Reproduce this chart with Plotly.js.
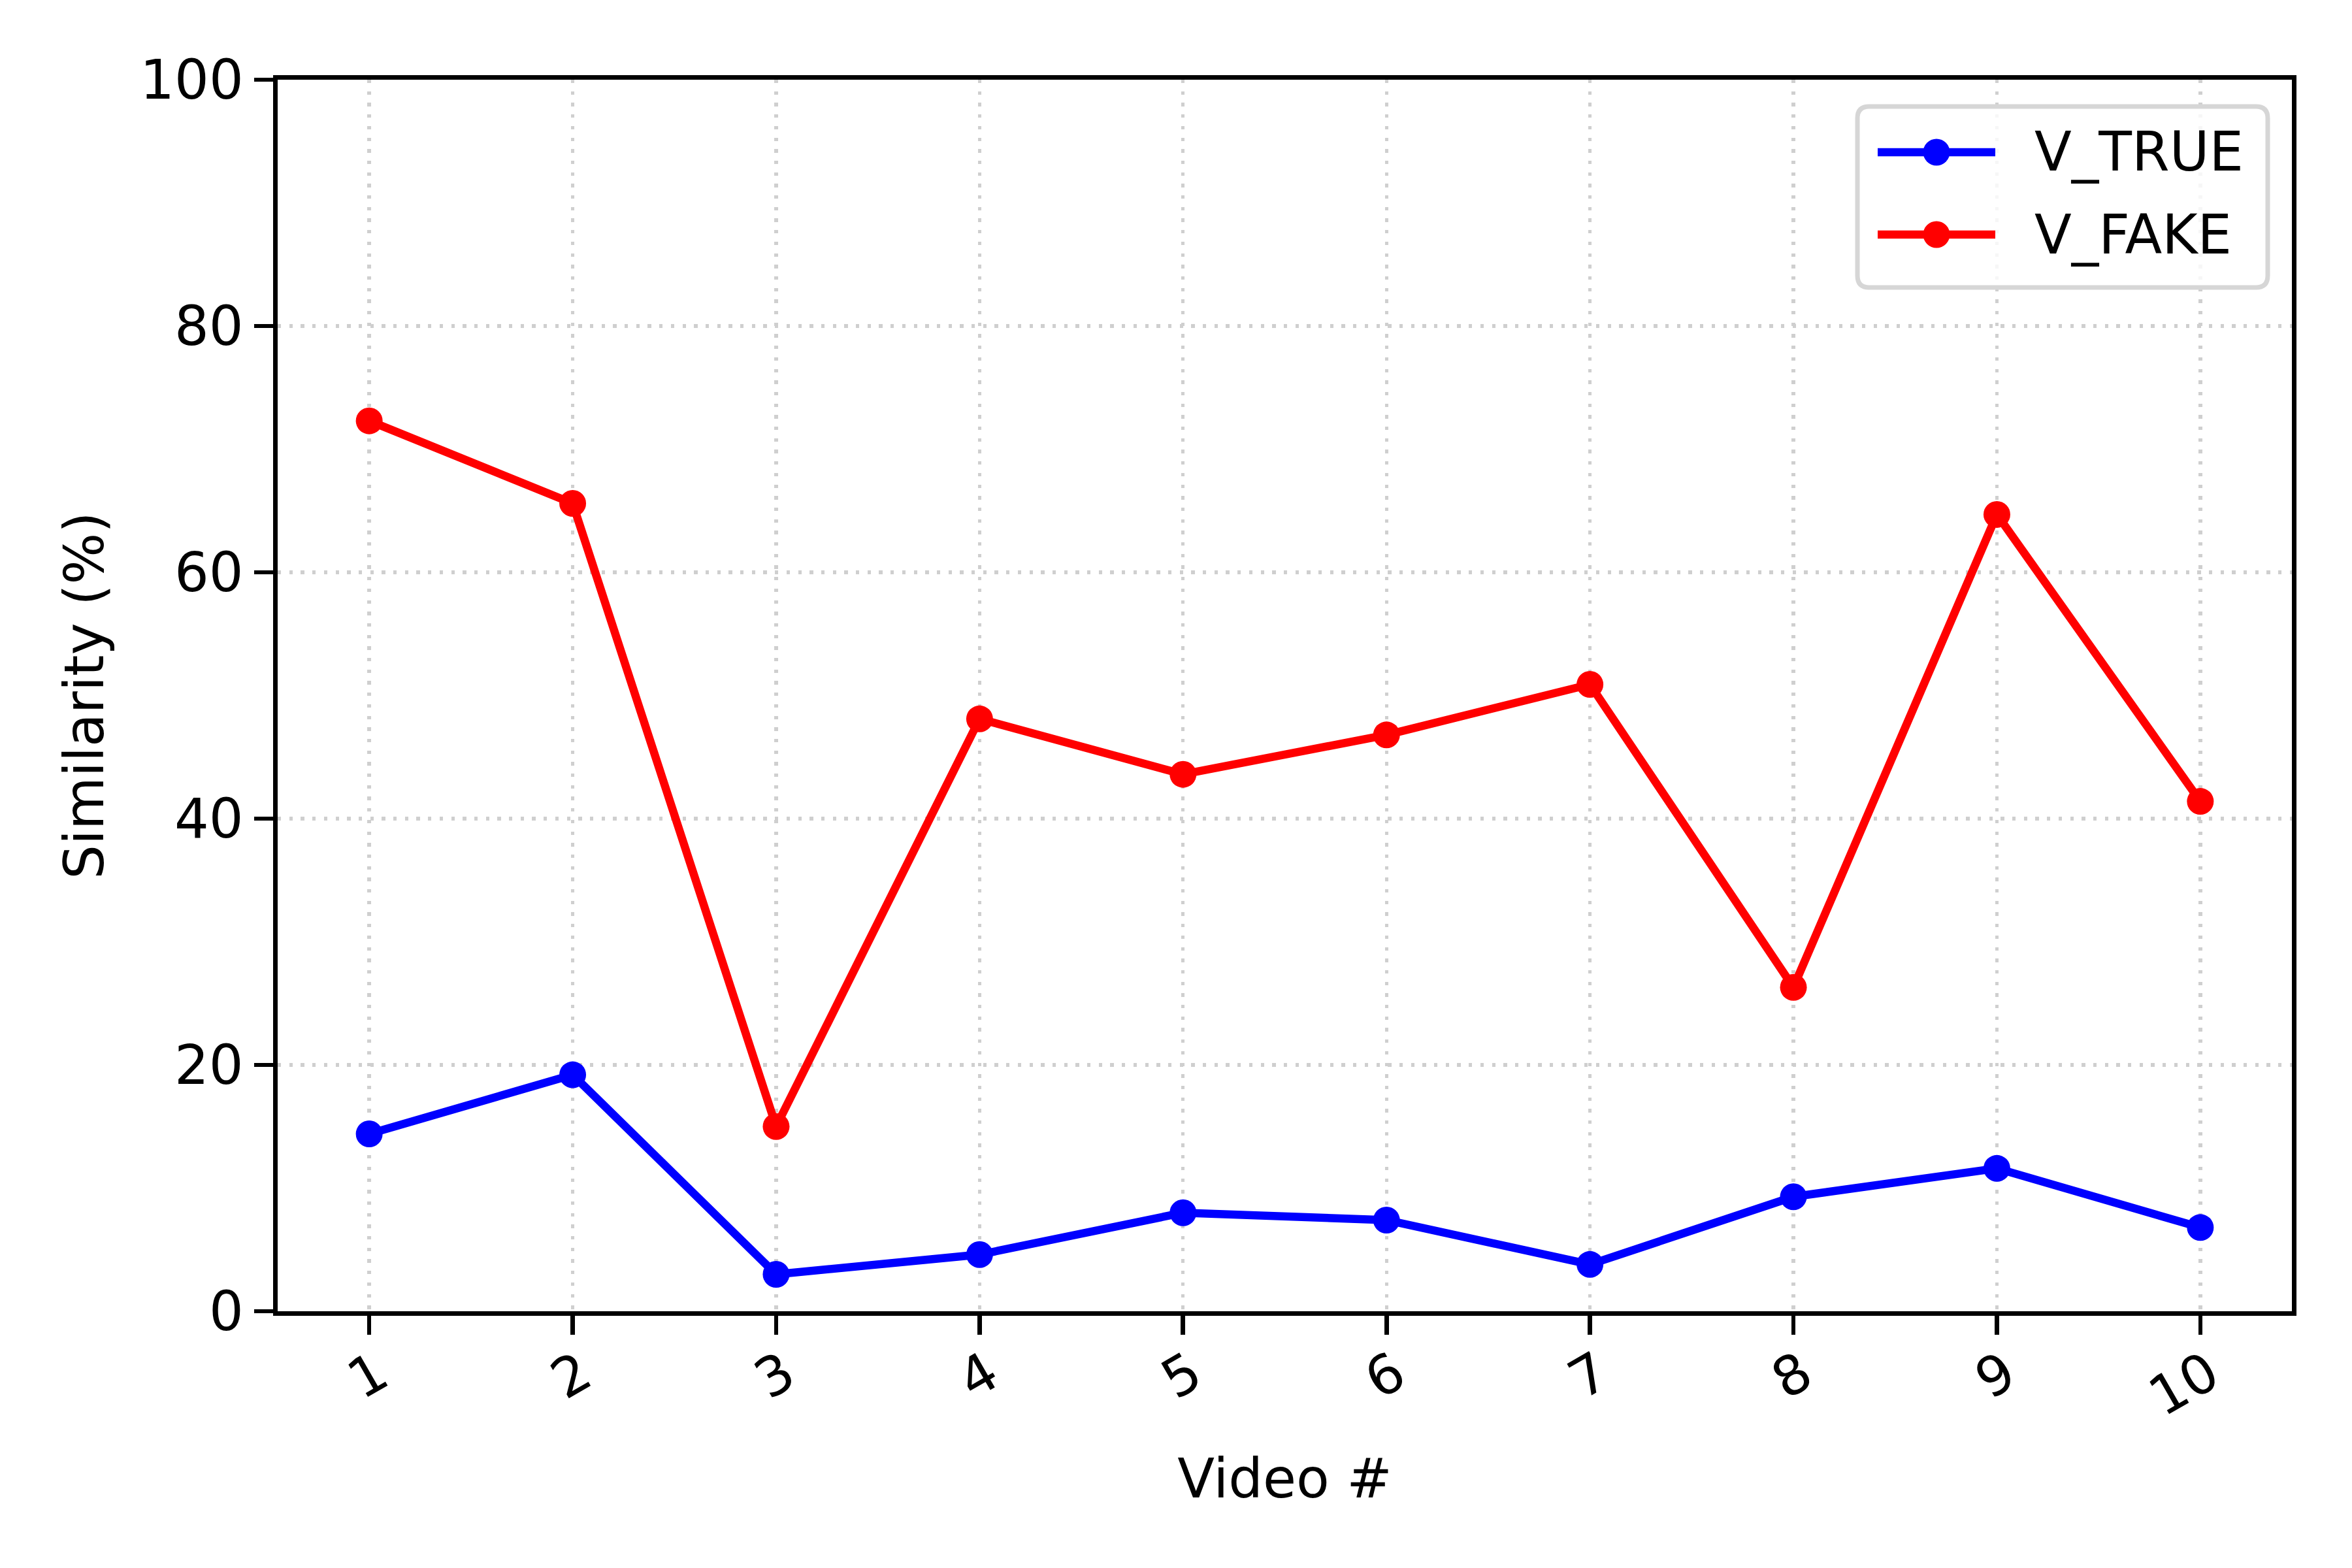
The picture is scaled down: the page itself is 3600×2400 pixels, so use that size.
<!DOCTYPE html>
<html>
<head>
<meta charset="utf-8">
<script src="https://cdn.plot.ly/plotly-3.0.1.min.js"></script>
<style>html,body{margin:0;padding:0;background:#fff;}#chart{width:3600px;height:2400px;}</style>
</head>
<body>
<div id="chart"></div>
<script>
const videos = [1, 2, 3, 4, 5, 6, 7, 8, 9, 10];
const tickLabels = ["1", "2", "3", "4", "5", "6", "7", "8", "9", "10"];
const vTrue = [14.4, 19.2, 3.0, 4.6, 8.0, 7.4, 3.8, 9.3, 11.6, 6.8];
const vFake = [72.3, 65.6, 15.0, 48.1, 43.6, 46.8, 50.9, 26.3, 64.7, 41.4];
const yTicks = [0, 20, 40, 60, 80, 100];
const seriesNames = ["V_TRUE", "V_FAKE"];
const seriesColors = ["#0000ff", "#ff0000"];

const FONT = "DejaVu Sans";
const FS = 83;

// plot area in pixels
const L = 425, R = 3508, T = 122, B = 2007;
const W = R - L, H = B - T;
const px = p => (p - L) / W;
const py = p => (B - p) / H;

const traces = [vTrue, vFake].map((vals, i) => ({
  x: videos, y: vals, name: seriesNames[i], mode: "lines+markers", type: "scatter",
  line: {color: seriesColors[i], width: 12.5},
  marker: {color: seriesColors[i], size: 41},
  showlegend: false
}));

const axisCommon = {
  showline: true, linecolor: "#000", linewidth: 6.7, mirror: true,
  ticks: "outside", ticklen: 29, tickwidth: 6.7, tickcolor: "#000",
  showgrid: true, gridcolor: "#cfcfcf", gridwidth: 5.3, griddash: "5.3px,12.4px",
  zeroline: false,
  tickfont: {family: FONT, size: FS, color: "#000"}
};

// custom matplotlib-style legend
const bx0 = 2843, bx1 = 3471, by0 = 163, by1 = 440, rad = 18;
const rx = rad / W, ry = rad / H;
const X0 = px(bx0), X1 = px(bx1), Y0 = py(by0), Y1 = py(by1);
const boxPath = `M${X0 + rx},${Y0} L${X1 - rx},${Y0} Q${X1},${Y0} ${X1},${Y0 - ry} ` +
  `L${X1},${Y1 + ry} Q${X1},${Y1} ${X1 - rx},${Y1} L${X0 + rx},${Y1} Q${X0},${Y1} ${X0},${Y1 + ry} ` +
  `L${X0},${Y0 - ry} Q${X0},${Y0} ${X0 + rx},${Y0} Z`;

const shapes = [{
  type: "path", xref: "paper", yref: "paper", path: boxPath,
  fillcolor: "rgba(255,255,255,0.8)", line: {color: "#d6d6d6", width: 7}, layer: "above"
}];
const annotations = [];
const rowY = [233, 359];
seriesNames.forEach((nm, i) => {
  const yy = py(rowY[i]);
  shapes.push({type: "line", xref: "paper", yref: "paper", x0: px(2874), x1: px(3054), y0: yy, y1: yy,
    line: {color: seriesColors[i], width: 12.5}, layer: "above"});
  shapes.push({type: "circle", xref: "paper", yref: "paper",
    x0: px(2964 - 20.5), x1: px(2964 + 20.5), y0: py(rowY[i] + 20.5), y1: py(rowY[i] - 20.5),
    fillcolor: seriesColors[i], line: {width: 0}, layer: "above"});
  annotations.push({xref: "paper", yref: "paper", x: px(3112), y: py(rowY[i]),
    xanchor: "left", yanchor: "middle", text: nm, showarrow: false,
    font: {family: FONT, size: FS, color: "#000"}});
});

const layout = {
  width: 3600, height: 2400,
  paper_bgcolor: "#fff", plot_bgcolor: "#fff",
  margin: {l: L, r: 3600 - R, t: T, b: 2400 - B},
  font: {family: FONT, size: FS, color: "#000"},
  xaxis: Object.assign({}, axisCommon, {
    range: [0.55, 10.45], tickmode: "array", tickvals: videos, ticktext: tickLabels,
    tickangle: -30, automargin: false, ticklabelstandoff: -20, ticklabelshift: 14,
    title: {text: "Video #", font: {family: FONT, size: FS}, standoff: 50}
  }),
  yaxis: Object.assign({}, axisCommon, {
    range: [0, 100], tickmode: "array", tickvals: yTicks, automargin: false,
    title: {text: "Similarity (%)", font: {family: FONT, size: FS}, standoff: 31}
  }),
  shapes: shapes,
  annotations: annotations,
  showlegend: false
};

Plotly.newPlot("chart", traces, layout, {staticPlot: true});
</script>
</body>
</html>
